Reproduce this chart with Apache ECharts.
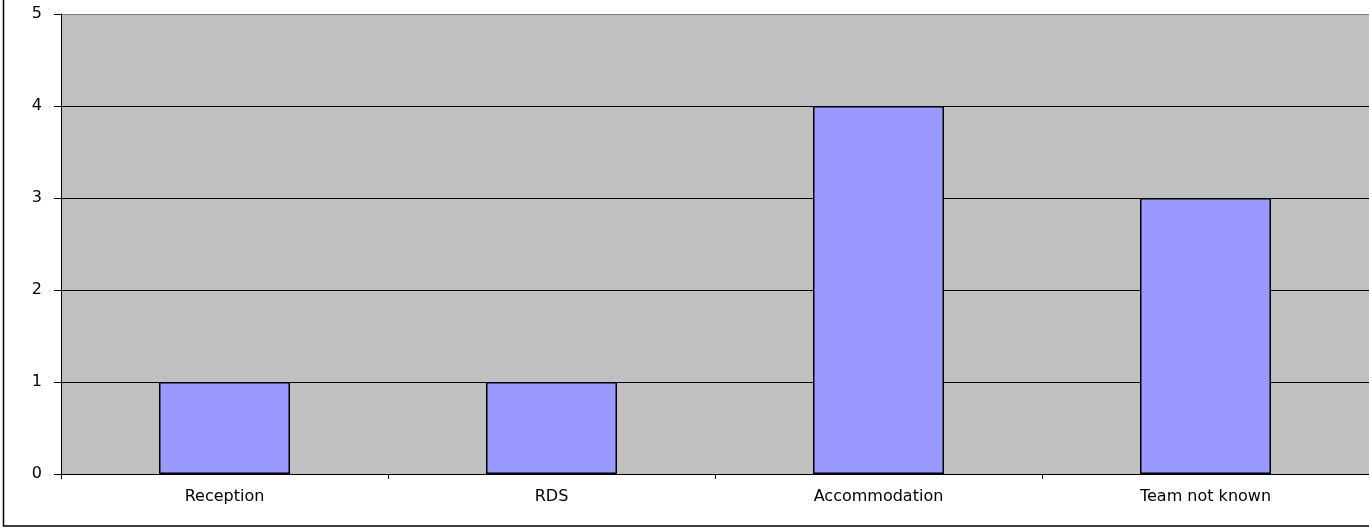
<!DOCTYPE html>
<html>
<head>
<meta charset="utf-8">
<script src="https://cdn.jsdelivr.net/npm/echarts@6/dist/echarts.min.js"></script>
<style>
  html, body { margin: 0; padding: 0; background: #ffffff; }
  #chart { width: 1369px; height: 528px; }
</style>
</head>
<body>
<div id="chart"></div>
<script>
var categories = ['Reception', 'RDS', 'Accommodation', 'Team not known'];
var counts = [1, 1, 4, 3];

var chart = echarts.init(document.getElementById('chart'));
chart.setOption({
  backgroundColor: '#ffffff',
  animation: false,
  textStyle: { fontFamily: 'DejaVu Sans, sans-serif' },
  // outer chart frame (cropped on top and right)
  graphic: [{
    type: 'rect',
    shape: { x: 3.5, y: -10, width: 1400, height: 536 },
    style: { fill: 'none', stroke: '#000000', lineWidth: 1.5 },
    silent: true
  }],
  grid: {
    left: 61,
    right: 0,
    top: 14,
    bottom: 54,
    show: true,
    backgroundColor: '#c0c0c0',
    borderWidth: 0
  },
  xAxis: {
    type: 'category',
    data: categories,
    axisLine: { lineStyle: { color: '#000000', width: 1 } },
    axisTick: { show: true, length: 5, lineStyle: { color: '#000000' } },
    axisLabel: { color: '#000000', fontSize: 16, margin: 15 }
  },
  yAxis: {
    type: 'value',
    min: 0,
    max: 5,
    interval: 1,
    axisLine: { show: true, lineStyle: { color: '#000000', width: 1 } },
    axisTick: { show: true, length: 7, lineStyle: { color: '#000000' } },
    axisLabel: { color: '#000000', fontSize: 16, margin: 19 },
    splitLine: {
      show: true,
      lineStyle: { color: ['#000000', '#000000', '#000000', '#000000', '#000000', '#808080'], width: 1 }
    }
  },
  series: [{
    type: 'bar',
    data: counts,
    barWidth: 131,
    itemStyle: { color: '#9999ff', borderColor: '#000000', borderWidth: 1.5 }
  }]
});
</script>
</body>
</html>
